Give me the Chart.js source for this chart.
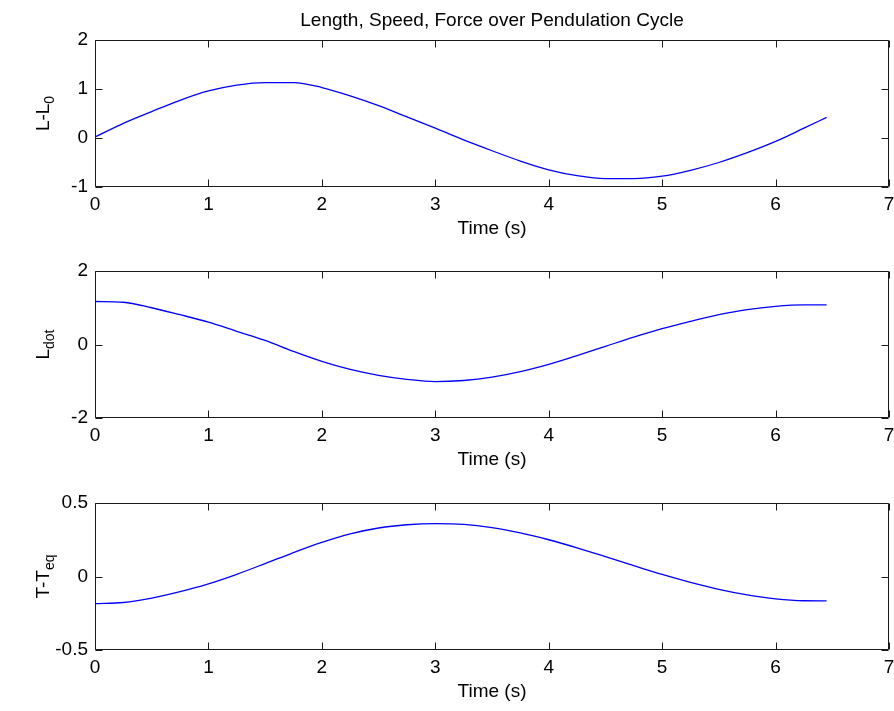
<!DOCTYPE html>
<html>
<head>
<meta charset="utf-8">
<script src="https://cdn.jsdelivr.net/npm/chart.js@4"></script>
<style>
  body { margin: 0; background: #fff; }
  #wrap { position: relative; width: 894px; height: 711px; }
  canvas { position: absolute; left: 0; }
</style>
</head>
<body>
<div id="wrap">
  <canvas id="c1" width="894" height="243" style="top:0px"></canvas>
  <canvas id="c2" width="894" height="243" style="top:231px"></canvas>
  <canvas id="c3" width="894" height="243" style="top:463px"></canvas>
</div>
<script>
// values
const time = [0, 0.25, 0.5, 0.75, 1, 1.25, 1.5, 1.75, 2, 2.25, 2.5, 2.75, 3, 3.25, 3.5, 3.75, 4, 4.25, 4.5, 4.75, 5, 5.25, 5.5, 5.75, 6, 6.25, 6.45];
const lengthDev = [0.02, 0.30, 0.54, 0.77, 0.96, 1.08, 1.13, 1.13, 1.03, 0.86, 0.66, 0.43, 0.20, -0.04, -0.26, -0.47, -0.65, -0.77, -0.83, -0.83, -0.78, -0.66, -0.50, -0.30, -0.07, 0.20, 0.42];
const speed = [1.17, 1.15, 1.00, 0.81, 0.61, 0.36, 0.11, -0.19, -0.46, -0.68, -0.84, -0.95, -1.01, -0.98, -0.89, -0.74, -0.54, -0.30, -0.05, 0.20, 0.43, 0.63, 0.81, 0.95, 1.04, 1.08, 1.08];
const force = [-0.185, -0.177, -0.147, -0.103, -0.05, 0.015, 0.088, 0.163, 0.232, 0.29, 0.33, 0.352, 0.36, 0.355, 0.333, 0.297, 0.25, 0.195, 0.135, 0.074, 0.014, -0.04, -0.087, -0.125, -0.152, -0.165, -0.166];

const xTicks = { min: 0, max: 7, step: 1 };
const FONT = "'Liberation Sans', Arial, sans-serif";

// box with inward ticks on all four sides, like matlab axes
const boxTicks = {
  id: 'boxTicks',
  afterDatasetsDraw(chart) {
    const { ctx, chartArea: a, scales: { x, y } } = chart;
    const L = Math.round(a.left) + 0.5, R = Math.round(a.right) - 0.5;
    const T = Math.round(a.top) + 0.5, B = Math.round(a.bottom) - 0.5;
    ctx.save();
    ctx.strokeStyle = '#1a1a1a';
    ctx.lineWidth = 1;
    ctx.beginPath();
    ctx.rect(L, T, R - L, B - T);
    x.ticks.forEach(t => {
      const px = Math.round(x.getPixelForValue(t.value)) + 0.5;
      ctx.moveTo(px, B); ctx.lineTo(px, B - 7);
      ctx.moveTo(px, T); ctx.lineTo(px, T + 7);
    });
    y.ticks.forEach(t => {
      const py = Math.round(y.getPixelForValue(t.value)) + 0.5;
      ctx.moveTo(L, py); ctx.lineTo(L + 7, py);
      ctx.moveTo(R, py); ctx.lineTo(R - 7, py);
    });
    ctx.stroke();
    ctx.restore();
  }
};

// rotated y label with a subscript part
const yLabel = {
  id: 'yLabel',
  afterDraw(chart, args, opts) {
    const { ctx, chartArea: a } = chart;
    const size = 19;
    ctx.save();
    ctx.translate(42, (a.top + a.bottom) / 2);
    ctx.rotate(-Math.PI / 2);
    ctx.fillStyle = '#000';
    ctx.textBaseline = 'alphabetic';
    ctx.textAlign = 'left';
    ctx.font = size + 'px ' + FONT;
    const w1 = ctx.measureText(opts.main).width;
    ctx.font = Math.round(size * 0.75) + 'px ' + FONT;
    const w2 = ctx.measureText(opts.sub).width;
    const x0 = -(w1 + w2) / 2;
    ctx.font = size + 'px ' + FONT;
    ctx.fillText(opts.main, x0, size * 0.36);
    ctx.font = Math.round(size * 0.75) + 'px ' + FONT;
    ctx.fillText(opts.sub, x0 + w1, size * 0.36 + 5);
    ctx.restore();
  }
};

function makeChart(id, values, yMin, yMax, yStep, main, sub, title) {
  return new Chart(document.getElementById(id), {
    type: 'line',
    data: {
      datasets: [{
        data: time.map((t, i) => ({ x: t, y: values[i] })),
        borderColor: '#0000ff',
        borderWidth: 1.3,
        pointRadius: 0,
        cubicInterpolationMode: 'monotone',
        fill: false
      }]
    },
    options: {
      responsive: false,
      animation: false,
      layout: { padding: { top: title ? 0 : 40, right: 5, left: 0, bottom: 0 } },
      plugins: {
        legend: { display: false },
        tooltip: { enabled: false },
        title: {
          display: !!title,
          text: title,
          fullSize: false,
          color: '#000',
          font: { family: FONT, size: 19, weight: 'normal' },
          padding: { top: 9, bottom: 8.2 }
        },
        yLabel: { main: main, sub: sub }
      },
      scales: {
        x: {
          type: 'linear',
          min: xTicks.min,
          max: xTicks.max,
          ticks: { stepSize: xTicks.step, color: '#000', padding: 6, font: { family: FONT, size: 19 } },
          grid: { display: false, drawTicks: false },
          border: { display: false },
          title: { display: true, text: 'Time (s)', color: '#000', font: { family: FONT, size: 19 }, padding: { top: 0, bottom: 2.6 } },
          afterFit(scale) { scale.height = 56; scale.paddingLeft = 0; scale.paddingRight = 0; }
        },
        y: {
          min: yMin,
          max: yMax,
          ticks: { stepSize: yStep, color: '#000', padding: 7, font: { family: FONT, size: 19 } },
          grid: { display: false, drawTicks: false },
          border: { display: false },
          afterFit(scale) { scale.width = 95; scale.paddingTop = 0; scale.paddingBottom = 0; }
        }
      }
    },
    plugins: [boxTicks, yLabel]
  });
}

makeChart('c1', lengthDev, -1, 2, 1, 'L-L', '0', 'Length, Speed, Force over Pendulation Cycle');
makeChart('c2', speed, -2, 2, 2, 'L', 'dot');
makeChart('c3', force, -0.5, 0.5, 0.5, 'T-T', 'eq');
</script>
</body>
</html>
